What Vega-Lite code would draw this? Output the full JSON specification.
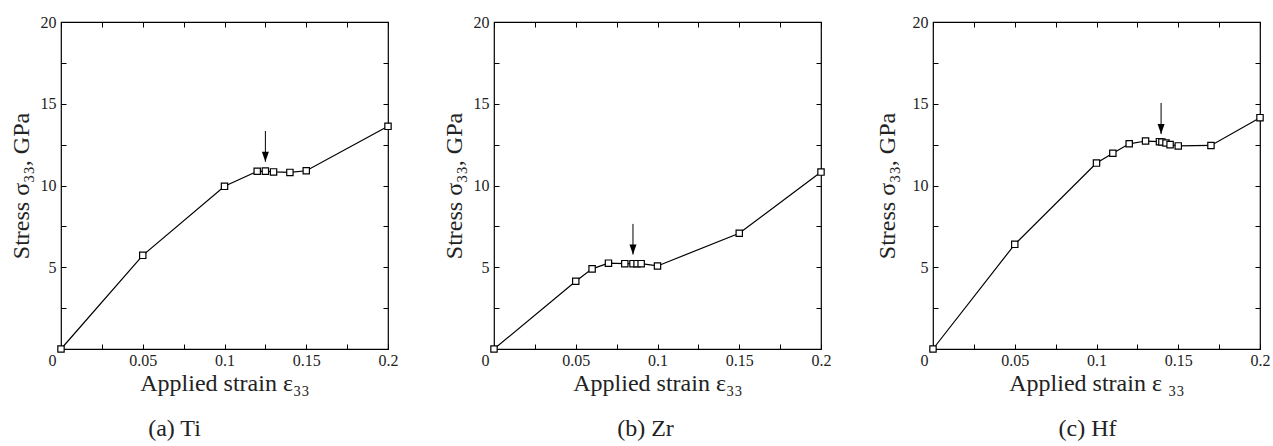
{
  "$schema": "https://vega.github.io/schema/vega-lite/v6.json",
  "padding": {"left": 8, "top": 13, "right": 0, "bottom": 0},
  "spacing": 42,
  "config": {
    "view": {"stroke": "black", "strokeWidth": 1.2},
    "axis": {
      "domain": false, "grid": false, "tickColor": "black", "tickSize": -5, "tickWidth": 1,
      "labelFont": "Liberation Serif", "labelFontSize": 16, "labelColor": "#222", "labelFlush": false, "labelOverlap": false,
      "titleFont": "Liberation Serif", "titleFontSize": 24, "titleFontWeight": "normal", "titleColor": "#222"
    },
    "title": {"font": "Liberation Serif", "fontSize": 24, "fontWeight": "normal", "color": "#222"}
  },
  "datasets": {
    "ti": [
      {"strain": 0, "stress": 0}, {"strain": 0.05, "stress": 5.73}, {"strain": 0.1, "stress": 9.95},
      {"strain": 0.12, "stress": 10.87}, {"strain": 0.125, "stress": 10.88}, {"strain": 0.13, "stress": 10.83},
      {"strain": 0.14, "stress": 10.8}, {"strain": 0.15, "stress": 10.9}, {"strain": 0.2, "stress": 13.62}
    ],
    "zr": [
      {"strain": 0, "stress": 0}, {"strain": 0.05, "stress": 4.14}, {"strain": 0.06, "stress": 4.9},
      {"strain": 0.07, "stress": 5.25}, {"strain": 0.08, "stress": 5.22}, {"strain": 0.085, "stress": 5.22},
      {"strain": 0.0875, "stress": 5.22}, {"strain": 0.09, "stress": 5.22}, {"strain": 0.1, "stress": 5.08},
      {"strain": 0.15, "stress": 7.08}, {"strain": 0.2, "stress": 10.82}
    ],
    "hf": [
      {"strain": 0, "stress": 0}, {"strain": 0.05, "stress": 6.4}, {"strain": 0.1, "stress": 11.37},
      {"strain": 0.11, "stress": 11.97}, {"strain": 0.12, "stress": 12.55}, {"strain": 0.13, "stress": 12.72},
      {"strain": 0.1385, "stress": 12.68}, {"strain": 0.14, "stress": 12.66}, {"strain": 0.1425, "stress": 12.6},
      {"strain": 0.145, "stress": 12.5}, {"strain": 0.15, "stress": 12.42}, {"strain": 0.17, "stress": 12.45},
      {"strain": 0.2, "stress": 14.15}
    ],
    "arrows": [
      {"panel": "Ti", "strain": 0.125, "top": 13.33, "tip": 11.45},
      {"panel": "Zr", "strain": 0.085, "top": 7.65, "tip": 5.78},
      {"panel": "Hf", "strain": 0.1395, "top": 15.05, "tip": 13.15}
    ]
  },
  "hconcat": [
    {
      "width": 327, "height": 327,
      "title": {"text": "(a) Ti", "orient": "bottom", "frame": "group", "anchor": "middle", "dx": -50, "offset": 22},
      "layer": [
        {"data": {"name": "ti"}, "mark": {"type": "line", "color": "black", "strokeWidth": 1.2},
          "encoding": {
            "x": {"field": "strain", "type": "quantitative", "scale": {"domain": [0, 0.2], "nice": false},
              "axis": {"orient": "bottom", "title": "Applied strain ε₃₃", "titlePadding": 3,
                "values": [0, 0.025, 0.05, 0.075, 0.1, 0.125, 0.15, 0.175, 0.2], "labelPadding": 8,
                "labelExpr": "abs(datum.value*20 - round(datum.value*20)) < 1e-6 ? format(datum.value, '~g') : ''",
                "labelOffset": {"condition": {"test": "datum.value === 0", "value": -9}, "value": 0}}},
            "y": {"field": "stress", "type": "quantitative", "scale": {"domain": [0, 20], "nice": false},
              "axis": {"orient": "left", "title": "Stress σ₃₃, GPa", "titlePadding": 7,
                "values": [0, 2.5, 5, 7.5, 10, 12.5, 15, 17.5, 20], "labelPadding": 10,
                "labelExpr": "datum.value % 5 === 0 && datum.value > 0 ? format(datum.value, 'd') : ''"}}
          }},
        {"data": {"name": "ti"}, "mark": {"type": "point", "shape": "square", "filled": true, "fill": "white", "stroke": "black", "strokeWidth": 1.2, "size": 40, "opacity": 1},
          "encoding": {
            "x": {"field": "strain", "type": "quantitative", "scale": {"domain": [0, 0.2], "nice": false},
              "axis": {"orient": "top", "title": null, "labels": false, "values": [0, 0.025, 0.05, 0.075, 0.1, 0.125, 0.15, 0.175, 0.2]}},
            "y": {"field": "stress", "type": "quantitative", "scale": {"domain": [0, 20], "nice": false},
              "axis": {"orient": "right", "title": null, "labels": false, "values": [0, 2.5, 5, 7.5, 10, 12.5, 15, 17.5, 20]}}
          }},
        {"data": {"name": "arrows"}, "transform": [{"filter": "datum.panel === 'Ti'"}],
          "mark": {"type": "rule", "color": "black", "strokeWidth": 1},
          "encoding": {
            "x": {"field": "strain", "type": "quantitative", "scale": {"domain": [0, 0.2], "nice": false}, "axis": null},
            "y": {"field": "top", "type": "quantitative", "scale": {"domain": [0, 20], "nice": false}, "axis": null},
            "y2": {"field": "tip"}
          }},
        {"data": {"name": "arrows"}, "transform": [{"filter": "datum.panel === 'Ti'"}],
          "mark": {"type": "point", "shape": "M-0.7,-1L0.7,-1L0,1Z", "filled": true, "color": "black", "size": 100, "opacity": 1, "yOffset": -5},
          "encoding": {
            "x": {"field": "strain", "type": "quantitative", "scale": {"domain": [0, 0.2], "nice": false}, "axis": null},
            "y": {"field": "tip", "type": "quantitative", "scale": {"domain": [0, 20], "nice": false}, "axis": null}
          }}
      ],
      "resolve": {"axis": {"x": "independent", "y": "independent"}}
    },
    {
      "width": 327, "height": 327,
      "title": {"text": "(b) Zr", "orient": "bottom", "frame": "group", "anchor": "middle", "dx": -12, "offset": 22},
      "layer": [
        {"data": {"name": "zr"}, "mark": {"type": "line", "color": "black", "strokeWidth": 1.2},
          "encoding": {
            "x": {"field": "strain", "type": "quantitative", "scale": {"domain": [0, 0.2], "nice": false},
              "axis": {"orient": "bottom", "title": "Applied strain ε₃₃", "titlePadding": 3,
                "values": [0, 0.025, 0.05, 0.075, 0.1, 0.125, 0.15, 0.175, 0.2], "labelPadding": 8,
                "labelExpr": "abs(datum.value*20 - round(datum.value*20)) < 1e-6 ? format(datum.value, '~g') : ''",
                "labelOffset": {"condition": {"test": "datum.value === 0", "value": -9}, "value": 0}}},
            "y": {"field": "stress", "type": "quantitative", "scale": {"domain": [0, 20], "nice": false},
              "axis": {"orient": "left", "title": "Stress σ₃₃, GPa", "titlePadding": 7,
                "values": [0, 2.5, 5, 7.5, 10, 12.5, 15, 17.5, 20], "labelPadding": 10,
                "labelExpr": "datum.value % 5 === 0 && datum.value > 0 ? format(datum.value, 'd') : ''"}}
          }},
        {"data": {"name": "zr"}, "mark": {"type": "point", "shape": "square", "filled": true, "fill": "white", "stroke": "black", "strokeWidth": 1.2, "size": 40, "opacity": 1},
          "encoding": {
            "x": {"field": "strain", "type": "quantitative", "scale": {"domain": [0, 0.2], "nice": false},
              "axis": {"orient": "top", "title": null, "labels": false, "values": [0, 0.025, 0.05, 0.075, 0.1, 0.125, 0.15, 0.175, 0.2]}},
            "y": {"field": "stress", "type": "quantitative", "scale": {"domain": [0, 20], "nice": false},
              "axis": {"orient": "right", "title": null, "labels": false, "values": [0, 2.5, 5, 7.5, 10, 12.5, 15, 17.5, 20]}}
          }},
        {"data": {"name": "arrows"}, "transform": [{"filter": "datum.panel === 'Zr'"}],
          "mark": {"type": "rule", "color": "black", "strokeWidth": 1},
          "encoding": {
            "x": {"field": "strain", "type": "quantitative", "scale": {"domain": [0, 0.2], "nice": false}, "axis": null},
            "y": {"field": "top", "type": "quantitative", "scale": {"domain": [0, 20], "nice": false}, "axis": null},
            "y2": {"field": "tip"}
          }},
        {"data": {"name": "arrows"}, "transform": [{"filter": "datum.panel === 'Zr'"}],
          "mark": {"type": "point", "shape": "M-0.7,-1L0.7,-1L0,1Z", "filled": true, "color": "black", "size": 100, "opacity": 1, "yOffset": -5},
          "encoding": {
            "x": {"field": "strain", "type": "quantitative", "scale": {"domain": [0, 0.2], "nice": false}, "axis": null},
            "y": {"field": "tip", "type": "quantitative", "scale": {"domain": [0, 20], "nice": false}, "axis": null}
          }}
      ],
      "resolve": {"axis": {"x": "independent", "y": "independent"}}
    },
    {
      "width": 327, "height": 327,
      "title": {"text": "(c) Hf", "orient": "bottom", "frame": "group", "anchor": "middle", "dx": -9, "offset": 22},
      "layer": [
        {"data": {"name": "hf"}, "mark": {"type": "line", "color": "black", "strokeWidth": 1.2},
          "encoding": {
            "x": {"field": "strain", "type": "quantitative", "scale": {"domain": [0, 0.2], "nice": false},
              "axis": {"orient": "bottom", "title": "Applied strain ε ₃₃", "titlePadding": 3,
                "values": [0, 0.025, 0.05, 0.075, 0.1, 0.125, 0.15, 0.175, 0.2], "labelPadding": 8,
                "labelExpr": "abs(datum.value*20 - round(datum.value*20)) < 1e-6 ? format(datum.value, '~g') : ''",
                "labelOffset": {"condition": {"test": "datum.value === 0", "value": -9}, "value": 0}}},
            "y": {"field": "stress", "type": "quantitative", "scale": {"domain": [0, 20], "nice": false},
              "axis": {"orient": "left", "title": "Stress σ₃₃, GPa", "titlePadding": 13,
                "values": [0, 2.5, 5, 7.5, 10, 12.5, 15, 17.5, 20], "labelPadding": 10,
                "labelExpr": "datum.value % 5 === 0 && datum.value > 0 ? format(datum.value, 'd') : ''"}}
          }},
        {"data": {"name": "hf"}, "mark": {"type": "point", "shape": "square", "filled": true, "fill": "white", "stroke": "black", "strokeWidth": 1.2, "size": 40, "opacity": 1},
          "encoding": {
            "x": {"field": "strain", "type": "quantitative", "scale": {"domain": [0, 0.2], "nice": false},
              "axis": {"orient": "top", "title": null, "labels": false, "values": [0, 0.025, 0.05, 0.075, 0.1, 0.125, 0.15, 0.175, 0.2]}},
            "y": {"field": "stress", "type": "quantitative", "scale": {"domain": [0, 20], "nice": false},
              "axis": {"orient": "right", "title": null, "labels": false, "values": [0, 2.5, 5, 7.5, 10, 12.5, 15, 17.5, 20]}}
          }},
        {"data": {"name": "arrows"}, "transform": [{"filter": "datum.panel === 'Hf'"}],
          "mark": {"type": "rule", "color": "black", "strokeWidth": 1},
          "encoding": {
            "x": {"field": "strain", "type": "quantitative", "scale": {"domain": [0, 0.2], "nice": false}, "axis": null},
            "y": {"field": "top", "type": "quantitative", "scale": {"domain": [0, 20], "nice": false}, "axis": null},
            "y2": {"field": "tip"}
          }},
        {"data": {"name": "arrows"}, "transform": [{"filter": "datum.panel === 'Hf'"}],
          "mark": {"type": "point", "shape": "M-0.7,-1L0.7,-1L0,1Z", "filled": true, "color": "black", "size": 100, "opacity": 1, "yOffset": -5},
          "encoding": {
            "x": {"field": "strain", "type": "quantitative", "scale": {"domain": [0, 0.2], "nice": false}, "axis": null},
            "y": {"field": "tip", "type": "quantitative", "scale": {"domain": [0, 20], "nice": false}, "axis": null}
          }}
      ],
      "resolve": {"axis": {"x": "independent", "y": "independent"}}
    }
  ]
}
